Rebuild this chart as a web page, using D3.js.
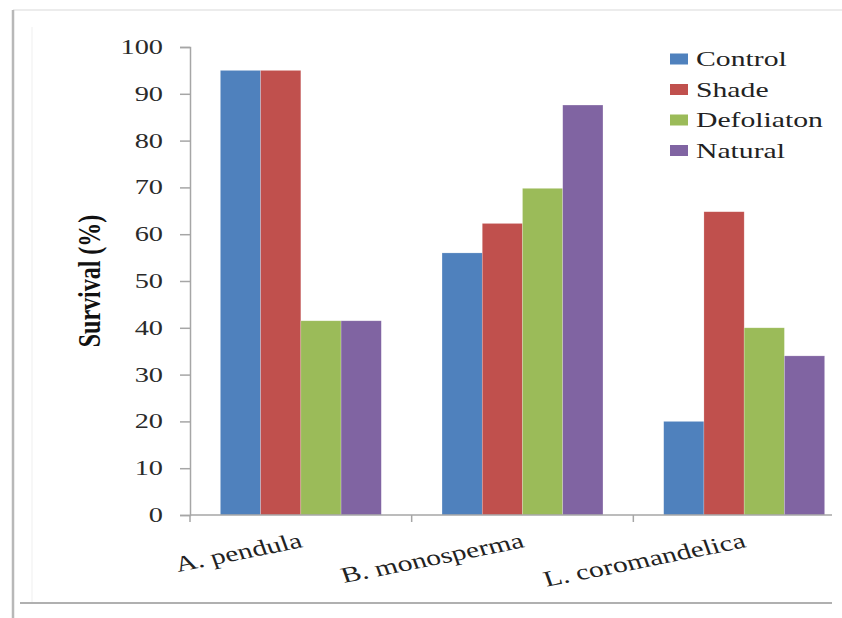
<!DOCTYPE html>
<html>
<head>
<meta charset="utf-8">
<script src="https://cdn.jsdelivr.net/npm/d3@7"></script>
<style>
  body { margin: 0; background: #fff; }
  text { font-family: "Liberation Serif", "Times New Roman", serif; }
</style>
</head>
<body>
<svg width="842" height="618"></svg>
<script>
var species = ["A. pendula", "B. monosperma", "L. coromandelica"];
var treatments = ["Control", "Shade", "Defoliaton", "Natural"];
var control = [95, 56, 20];
var shade = [95, 62.3, 64.8];
var defoliation = [41.5, 69.8, 40];
var natural = [41.5, 87.6, 34];
var yTicks = [0, 10, 20, 30, 40, 50, 60, 70, 80, 90, 100];
var colors = ["#4F81BD", "#C0504D", "#9BBB59", "#8064A2"];

var seriesValues = [control, shade, defoliation, natural];
var data = species.map(function(s, i) {
  return { species: s, values: treatments.map(function(t, j) { return { key: t, value: seriesValues[j][i] }; }) };
});

var svg = d3.select("svg"),
    margin = {top: 47, left: 190, bottom: 103},
    plotRight = 855, clipRight = 832,
    height = 618 - margin.top - margin.bottom,
    stretch = 1.35;

// frame
svg.append("line").attr("x1", 13).attr("x2", 842).attr("y1", 10).attr("y2", 10)
  .attr("stroke", "#ececec").attr("stroke-width", 2);
svg.append("line").attr("x1", 13).attr("x2", 13).attr("y1", 10).attr("y2", 618)
  .attr("stroke", "#b8b8b8").attr("stroke-width", 2.5);
svg.append("line").attr("x1", 32).attr("x2", 32).attr("y1", 27).attr("y2", 603)
  .attr("stroke", "#efefef").attr("stroke-width", 1);
svg.append("line").attr("x1", 20).attr("x2", clipRight).attr("y1", 603).attr("y2", 603)
  .attr("stroke", "#b0b0b0").attr("stroke-width", 2);

var x0 = d3.scaleBand().domain(species).range([margin.left, plotRight]).padding(0);
var x1 = d3.scaleBand().domain(treatments)
  .range([x0.bandwidth() * 0.137, x0.bandwidth() * 0.863]).padding(0);
var y = d3.scaleLinear().domain([0, 100]).range([margin.top + height, margin.top]);
var color = d3.scaleOrdinal().domain(treatments).range(colors);

svg.append("defs").append("clipPath").attr("id", "clip")
  .append("rect").attr("x", 0).attr("y", 0).attr("width", clipRight).attr("height", 618);

var plot = svg.append("g").attr("clip-path", "url(#clip)");

plot.selectAll("g.group")
  .data(data)
  .enter().append("g")
  .attr("class", "group")
  .attr("transform", function(d) { return "translate(" + x0(d.species) + ",0)"; })
  .selectAll("rect")
  .data(function(d) { return d.values; })
  .enter().append("rect")
  .attr("x", function(d) { return x1(d.key); })
  .attr("width", x1.bandwidth())
  .attr("y", function(d) { return y(d.value); })
  .attr("height", function(d) { return y(0) - y(d.value); })
  .attr("fill", function(d) { return color(d.key); })
  .attr("stroke", "rgba(255,255,255,0.35)")
  .attr("stroke-width", 0.6);

// y axis
var yAxis = svg.append("g")
  .attr("transform", "translate(" + margin.left + ",0)")
  .call(d3.axisLeft(y).tickValues(yTicks).tickSize(10).tickSizeOuter(10).tickPadding(0));
yAxis.selectAll("text").remove();
yAxis.selectAll("line, path").attr("stroke", "#a6a6a6").attr("stroke-width", 1.5);

svg.selectAll("text.ytick")
  .data(yTicks)
  .enter().append("text")
  .attr("class", "ytick")
  .attr("transform", function(d) { return "translate(" + 163 + "," + (y(d) + 7) + ") scale(" + stretch + ",1)"; })
  .attr("text-anchor", "end")
  .style("font-size", "21px")
  .style("fill", "#2a2a2a")
  .text(function(d) { return d; });

// x axis
plot.append("line")
  .attr("x1", margin.left).attr("x2", plotRight)
  .attr("y1", y(0)).attr("y2", y(0))
  .attr("stroke", "#a6a6a6").attr("stroke-width", 1.5);

plot.selectAll("line.xtick")
  .data(species)
  .enter().append("line")
  .attr("class", "xtick")
  .attr("x1", function(d) { return x0(d); })
  .attr("x2", function(d) { return x0(d); })
  .attr("y1", y(0)).attr("y2", y(0) + 7)
  .attr("stroke", "#a6a6a6").attr("stroke-width", 1.5);

svg.selectAll("text.xlab")
  .data(species)
  .enter().append("text")
  .attr("class", "xlab")
  .attr("transform", function(d) {
    return "translate(" + (x0(d) + x0.bandwidth() / 2 + 3) + ",547) scale(" + stretch + ",1) rotate(-15)";
  })
  .attr("text-anchor", "end")
  .style("font-size", "22px")
  .style("fill", "#222")
  .text(function(d) { return d; });

// y axis title
svg.append("text")
  .attr("transform", "translate(100," + y(50) + ") scale(" + stretch + ",1) rotate(-90)")
  .attr("text-anchor", "middle")
  .style("font-size", "24px")
  .style("font-weight", "bold")
  .style("fill", "#111")
  .text("Survival (%)");

// legend
var legend = svg.selectAll("g.legend")
  .data(treatments)
  .enter().append("g")
  .attr("class", "legend")
  .attr("transform", function(d, i) { return "translate(670," + (59 + i * 30.5) + ")"; });

legend.append("rect")
  .attr("x", 0).attr("y", -5.5)
  .attr("width", 18).attr("height", 11)
  .attr("fill", function(d) { return color(d); });

legend.append("text")
  .attr("transform", "translate(26,7) scale(" + stretch + ",1)")
  .style("font-size", "22px")
  .style("fill", "#222")
  .text(function(d) { return d; });
</script>
</body>
</html>
